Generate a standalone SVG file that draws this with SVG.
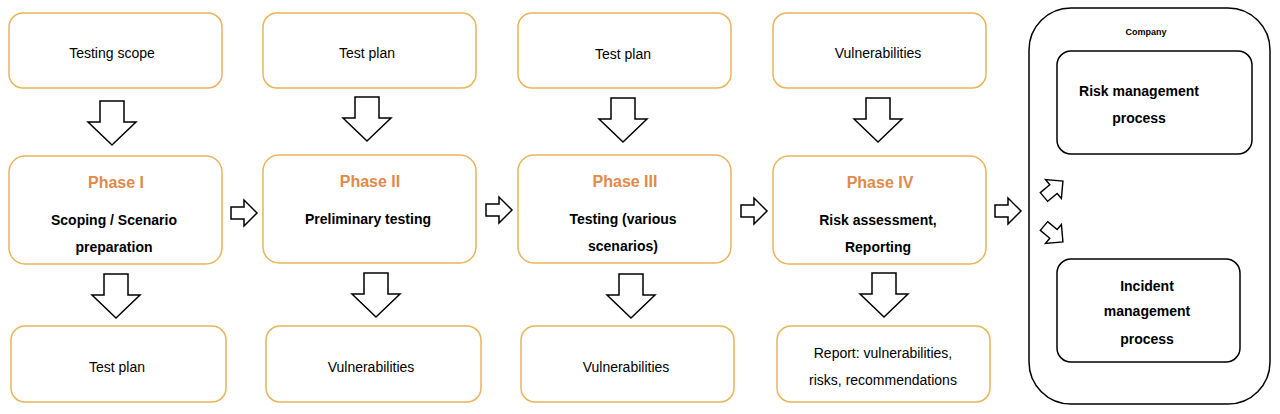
<svg xmlns="http://www.w3.org/2000/svg" width="1280" height="414" viewBox="0 0 1280 414">
<defs>
<style>
.b{fill:#fff;stroke:#e8b55a;stroke-width:1.5}
.k{fill:#fff;stroke:#000;stroke-width:1.5}
.a{fill:#fff;stroke:#000;stroke-width:1.5;stroke-linejoin:miter}
text{font-family:"Liberation Sans",Arial,sans-serif;font-size:14px;text-anchor:middle;fill:#000}
.t{font-weight:bold;font-size:16px;fill:#e08a4a}
.s{font-weight:bold}
</style>
<path id="dn" d="M-12,0 H12 V21 H24 L0,44 L-24,21 H-12 Z"/>
<path id="rt" d="M0,-6 H13 V-13 L26,0 L13,13 V6 H0 Z"/>
</defs>
<rect width="1280" height="414" fill="#fff"/>
<g id="company"><rect class="k" x="1029" y="8" width="241" height="396" rx="42"/><text x="1146" y="35" style="font-size:9px;font-weight:bold">Company</text></g>
<g id="risk"><rect class="k" x="1057" y="51" width="195" height="103" rx="14"/><text class="s" x="1139" y="96">Risk management</text><text class="s" x="1139" y="123">process</text></g>
<g id="incident"><rect class="k" x="1057" y="259" width="183" height="103" rx="14"/><text class="s" x="1147" y="291">Incident</text><text class="s" x="1147" y="316">management</text><text class="s" x="1147" y="344">process</text></g>
<g id="top1"><rect class="b" x="9" y="13" width="213" height="75" rx="14"/><text x="112" y="58">Testing scope</text></g>
<g id="top2"><rect class="b" x="263" y="13" width="213" height="75" rx="14"/><text x="367" y="58">Test plan</text></g>
<g id="top3"><rect class="b" x="518" y="13" width="213" height="75" rx="14"/><text x="623" y="59">Test plan</text></g>
<g id="top4"><rect class="b" x="773" y="13" width="213" height="75" rx="14"/><text x="878" y="58">Vulnerabilities</text></g>
<g id="p1"><rect class="b" x="9" y="156" width="213" height="108" rx="16"/><text class="t" x="116" y="188">Phase I</text><text class="s" x="114" y="225">Scoping / Scenario</text><text class="s" x="114" y="252">preparation</text></g>
<g id="p2"><rect class="b" x="263" y="155" width="213" height="108" rx="16"/><text class="t" x="370" y="187">Phase II</text><text class="s" x="368" y="224">Preliminary testing</text></g>
<g id="p3"><rect class="b" x="518" y="155" width="213" height="108" rx="16"/><text class="t" x="625" y="187">Phase III</text><text class="s" x="623" y="224">Testing (various</text><text class="s" x="623" y="251">scenarios)</text></g>
<g id="p4"><rect class="b" x="773" y="156" width="213" height="108" rx="16"/><text class="t" x="880" y="188">Phase IV</text><text class="s" x="878" y="225">Risk assessment,</text><text class="s" x="878" y="252">Reporting</text></g>
<g id="bot1"><rect class="b" x="11" y="326" width="215" height="76" rx="14"/><text x="117" y="372">Test plan</text></g>
<g id="bot2"><rect class="b" x="266" y="326" width="215" height="76" rx="14"/><text x="371" y="372">Vulnerabilities</text></g>
<g id="bot3"><rect class="b" x="521" y="326" width="213" height="76" rx="14"/><text x="626" y="372">Vulnerabilities</text></g>
<g id="bot4"><rect class="b" x="777" y="326" width="213" height="76" rx="14"/><text x="883" y="358">Report: vulnerabilities,</text><text x="883" y="385">risks, recommendations</text></g>
<g id="connectors">
<use href="#dn" class="a" x="112" y="101"/>
<use href="#dn" class="a" x="367" y="97"/>
<use href="#dn" class="a" x="623" y="98"/>
<use href="#dn" class="a" x="878" y="98"/>
<use href="#dn" class="a" x="116" y="274"/>
<use href="#dn" class="a" x="376" y="273"/>
<use href="#dn" class="a" x="631" y="274"/>
<use href="#dn" class="a" x="884" y="273"/>
<use href="#rt" class="a" x="231" y="213"/>
<use href="#rt" class="a" x="486" y="210"/>
<use href="#rt" class="a" x="741" y="211"/>
<use href="#rt" class="a" x="995" y="211"/>
<use href="#rt" class="a" transform="translate(1044,197) rotate(-40) scale(0.95)"/>
<use href="#rt" class="a" transform="translate(1044,226) rotate(40) scale(0.95)"/>
</g>
</svg>
